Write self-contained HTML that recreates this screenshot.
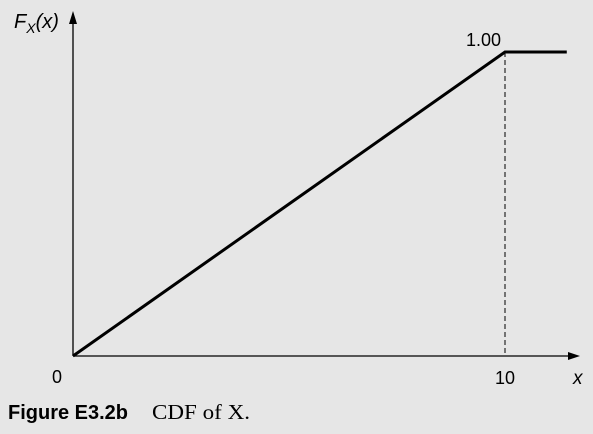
<!DOCTYPE html>
<html><head><meta charset="utf-8"><style>
body{margin:0;background:#e6e6e6;}
svg{display:block}
</style></head><body>
<svg width="593" height="434" viewBox="0 0 593 434" xmlns="http://www.w3.org/2000/svg">
<rect width="593" height="434" fill="#e6e6e6"/>
<g id="axes" stroke="#000" stroke-width="1.3" fill="none">
<line x1="73" y1="356" x2="570" y2="356"/>
<line x1="73" y1="356" x2="73" y2="22"/>
</g>
<polygon points="580,356 568,352 568,360" fill="#000"/>
<polygon points="73,11 69,24 77,24" fill="#000"/>
<g id="plot"></g>
<text x="14" y="28" font-family="Liberation Sans, sans-serif" font-size="20" font-style="italic">F<tspan font-size="14" dy="5">X</tspan><tspan dy="-5">(x)</tspan></text>
<text x="573" y="384" font-family="Liberation Sans, sans-serif" font-size="19" font-style="italic">x</text>
<text x="52" y="383" font-family="Liberation Sans, sans-serif" font-size="18">0</text>
<text id="t10" font-family="Liberation Sans, sans-serif" font-size="18" text-anchor="middle">10</text>
<text id="t100" font-family="Liberation Sans, sans-serif" font-size="18" text-anchor="end">1.00</text>
<text x="8" y="419" font-family="Liberation Sans, sans-serif" font-size="20" font-weight="bold" textLength="120" lengthAdjust="spacingAndGlyphs">Figure E3.2b</text>
<text x="152" y="419" font-family="Liberation Serif, serif" font-size="21" textLength="98" lengthAdjust="spacingAndGlyphs">CDF of X.</text>
</svg>
<script>
const xVals=[0,10,11.43];
const yVals=[0,1,1];
const xTicks=[0,10];
const X=v=>73+v*43.2;
const Y=v=>356-v*304;
const g=document.getElementById('plot');
const ns='http://www.w3.org/2000/svg';
const dash=document.createElementNS(ns,'line');
dash.setAttribute('x1',X(xVals[1]));dash.setAttribute('x2',X(xVals[1]));
dash.setAttribute('y1',Y(yVals[1]));dash.setAttribute('y2',Y(0));
dash.setAttribute('stroke','#000');dash.setAttribute('stroke-width','1');dash.setAttribute('stroke-dasharray','5,3');


g.appendChild(dash);
const pl=document.createElementNS(ns,'polyline');
pl.setAttribute('points',xVals.map((x,i)=>X(x)+','+Y(yVals[i])).join(' '));
pl.setAttribute('fill','none');pl.setAttribute('stroke','#000');pl.setAttribute('stroke-width','3');


g.appendChild(pl);
const t10=document.getElementById('t10');
t10.setAttribute('x',X(xTicks[1]));t10.setAttribute('y',384);
const t100=document.getElementById('t100');
t100.setAttribute('x',X(xVals[1])-4);t100.setAttribute('y',Y(yVals[1])-6);
</script>
</body></html>
